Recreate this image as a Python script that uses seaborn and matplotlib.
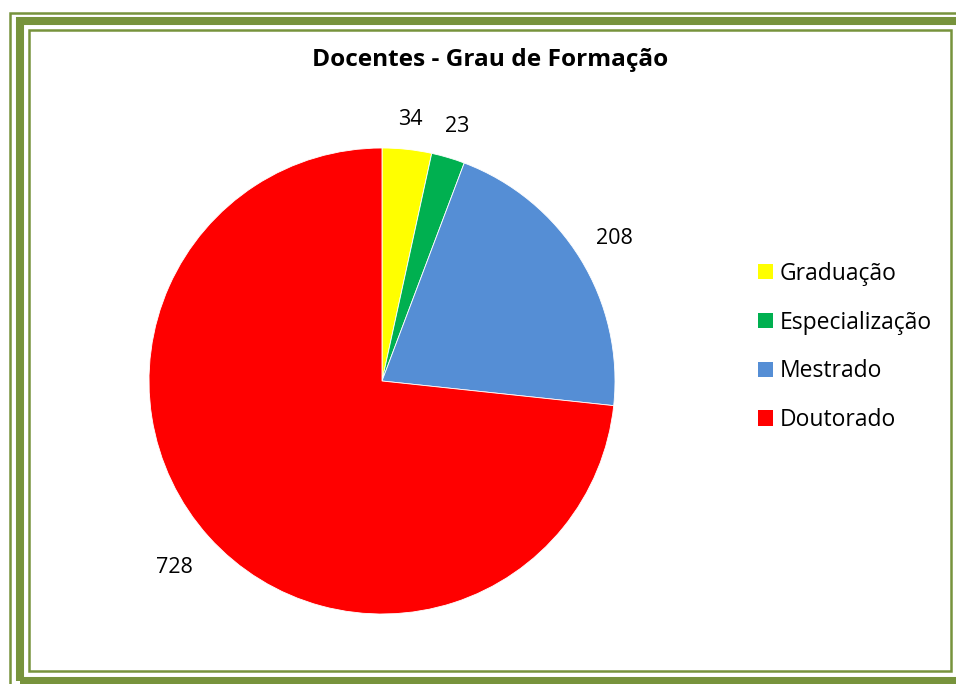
import matplotlib
matplotlib.use("Agg")
import matplotlib.pyplot as plt
from matplotlib.patches import Rectangle, Patch
import numpy as np
import seaborn as sns

categories = ["Graduação", "Especialização", "Mestrado", "Doutorado"]
values = [34, 23, 208, 728]
colors = ["#FFFF00", "#00B050", "#558ED5", "#FF0000"]
title = "Docentes - Grau de Formação"

sns.set_theme(style="white")
plt.rcParams["font.family"] = ["Open Sans", "DejaVu Sans"]
plt.rcParams["text.color"] = "black"

W, H = 956, 684
fig = plt.figure(figsize=(W / 100, H / 100), dpi=100)
fig.patch.set_facecolor("white")

def px_rect(l, t, r, b, lw):
    return Rectangle((l / W, 1 - b / H), (r - l) / W, (b - t) / H,
                     transform=fig.transFigure, fill=False,
                     edgecolor="#77933C", linewidth=lw)

fig.patches.append(px_rect(10, 12.5, 975, 690, 1.8))
fig.patches.append(px_rect(20, 20.5, 965, 680.5, 5.8))
fig.patches.append(px_rect(28.5, 30, 950.5, 671, 1.8))

cx, cy, R = 382, 381, 233
ax = fig.add_axes([(cx - R) / W, 1 - (cy + R) / H, 2 * R / W, 2 * R / H])
wedges, _ = ax.pie(values, colors=colors, startangle=90, counterclock=False,
                   wedgeprops=dict(linewidth=0.6, edgecolor="white"))
ax.set_xlim(-1, 1)
ax.set_ylim(-1, 1)
ax.set_aspect("equal")
ax.axis("off")

label_r = [1.13, 1.14, 1.17, 1.20]
total = sum(values)
cum = 0
for v, lr in zip(values, label_r):
    mid = 90 - (cum + v / 2) / total * 360
    cum += v
    a = np.deg2rad(mid)
    ax.text(lr * np.cos(a), lr * np.sin(a), str(v), ha="center", va="center",
            fontsize=15.5, color="black")

fig.text(490 / W, 1 - 60 / H, title, ha="center", va="center",
         fontsize=17.6, fontweight="bold", color="black")

handles = [Patch(facecolor=c, edgecolor="none") for c in colors]
leg = fig.legend(handles, categories, loc="center left",
                 bbox_to_anchor=(737 / W, 1 - 347 / H), frameon=False,
                 fontsize=16.5, handlelength=0.65, handleheight=0.65,
                 handletextpad=0.3, labelspacing=1.08, labelcolor="black")

fig.savefig("out.png", dpi=100, facecolor="white")
